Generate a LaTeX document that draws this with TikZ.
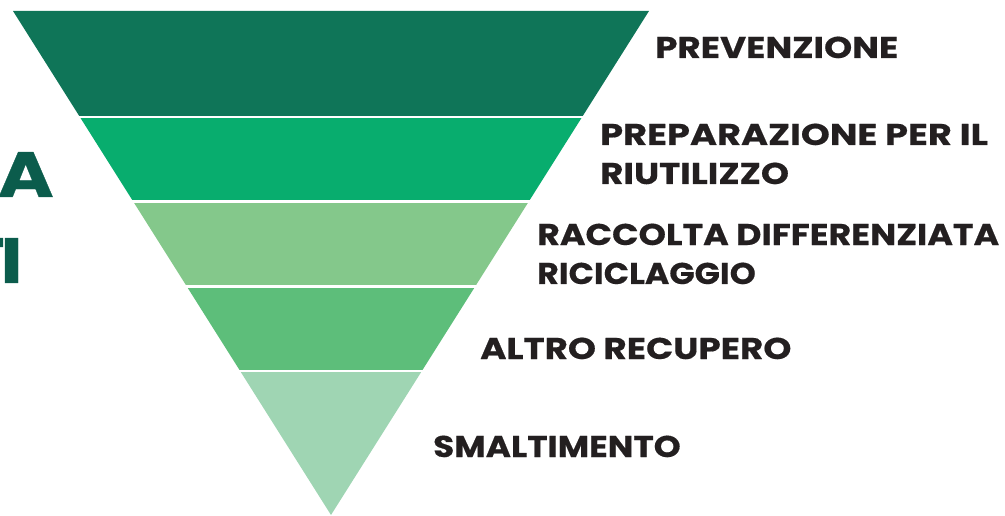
\documentclass[tikz,border=0pt]{standalone}
\usepackage{fontspec}
\newfontfamily\labfont{Poppins}[FakeStretch=1.19, BoldFeatures={FakeBold=0.5}]
\definecolor{bandA}{HTML}{0F7558}
\definecolor{bandB}{HTML}{08AD6E}
\definecolor{bandC}{HTML}{84C88B}
\definecolor{bandD}{HTML}{5DBE7A}
\definecolor{bandE}{HTML}{9FD5B3}
\definecolor{titlecol}{HTML}{0B5C4C}
\definecolor{labelcol}{HTML}{231F20}
\tikzset{
  lab/.style={anchor=base west, inner sep=0pt, text=labelcol, align=left,
    font=\labfont\bfseries\fontsize{30}{39}\selectfont},
  ttl/.style={anchor=base east, inner sep=0pt, text=titlecol,
    font=\labfont\bfseries\fontsize{64}{70}\selectfont},
  sep/.style={white, line width=2.5pt}
}
\begin{document}
\begin{tikzpicture}[x=1pt,y=1pt]
\useasboundingbox (0,0) rectangle (1005,515);
\clip (0,0) rectangle (1005,515);
% half-width: hw(y) = 0.630952*y measured from apex at (331,0)
\def\hw#1{0.630952*(#1)}
\coordinate (apex) at (331,0);
\fill[bandA] ({331-\hw{504}},504) -- ({331+\hw{504}},504) -- ({331+\hw{398}},398) -- ({331-\hw{398}},398) -- cycle;
\fill[bandB] ({331-\hw{398}},398) -- ({331+\hw{398}},398) -- ({331+\hw{313.5}},313.5) -- ({331-\hw{313.5}},313.5) -- cycle;
\fill[bandC] ({331-\hw{313.5}},313.5) -- ({331+\hw{313.5}},313.5) -- ({331+\hw{228.5}},228.5) -- ({331-\hw{228.5}},228.5) -- cycle;
\fill[bandD] ({331-\hw{228.5}},228.5) -- ({331+\hw{228.5}},228.5) -- ({331+\hw{144}},144) -- ({331-\hw{144}},144) -- cycle;
\fill[bandE] ({331-\hw{144}},144) -- ({331+\hw{144}},144) -- (apex) -- cycle;
\foreach \yy in {398,313.5,228.5,144}
  \draw[sep] ({331-\hw{\yy}-2},\yy) -- ({331+\hw{\yy}+2},\yy);
% labels
\node[lab] (l1) at (655,457) {PREVENZIONE};
\node[lab] (l2) at (600,331) {\scalebox{1.03}[1]{PREPARAZIONE PER IL}\\RIUTILIZZO};
\node[lab] (l3) at (537,231) {\scalebox{0.975}[1]{RACCOLTA DIFFERENZIATA}\\\scalebox{0.93}[1]{RICICLAGGIO}};
\node[lab] (l4) at (480,156) {ALTRO RECUPERO};
\node[lab] (l5) at (433,58) {\scalebox{0.96}[1]{SMALTIMENTO}};
% cut-off title
\node[ttl] (t1) at (54,318) {A};
\node[ttl] (t2) at (23,232) {T\kern-4.5ptI};
\end{tikzpicture}
\end{document}
